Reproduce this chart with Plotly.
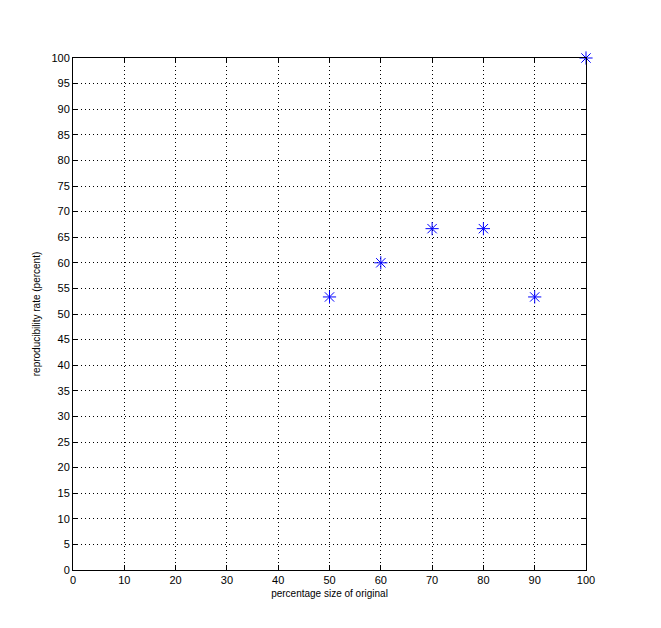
import plotly.graph_objects as go

x_vals = [50, 60, 70, 80, 90, 100]
y_vals = [53.33, 60.0, 66.67, 66.67, 53.33, 100.0]
x_ticks = list(range(0, 101, 10))
y_ticks = list(range(0, 101, 5))

fig = go.Figure()
fig.add_trace(go.Scatter(
    x=x_vals, y=y_vals, mode="markers",
    marker=dict(symbol="asterisk-open", size=11, color="#0000ff",
                line=dict(color="#0000ff", width=1)),
    cliponaxis=False, showlegend=False,
))

axis_common = dict(
    showline=True, linecolor="black", linewidth=1, mirror="ticks",
    ticks="inside", ticklen=5, tickcolor="black",
    showgrid=True, gridcolor="black", griddash="1px,3px", gridwidth=1,
    zeroline=False, tickfont=dict(size=11, color="black"),
    automargin=False,
)

fig.update_layout(
    width=661, height=628,
    margin=dict(l=65, r=83, t=50, b=66),
    paper_bgcolor="white", plot_bgcolor="white",
    font=dict(family="Liberation Sans, Arial, sans-serif", size=11, color="black"),
    xaxis=dict(range=[0, 100], tickvals=x_ticks,
               title=dict(text="percentage size of original", font=dict(size=10), standoff=4),
               **axis_common),
    yaxis=dict(range=[0, 100], tickvals=y_ticks,
               title=dict(text="reproducibility rate (percent)", font=dict(size=10), standoff=8),
               **axis_common),
)

fig.write_html("out.html")
